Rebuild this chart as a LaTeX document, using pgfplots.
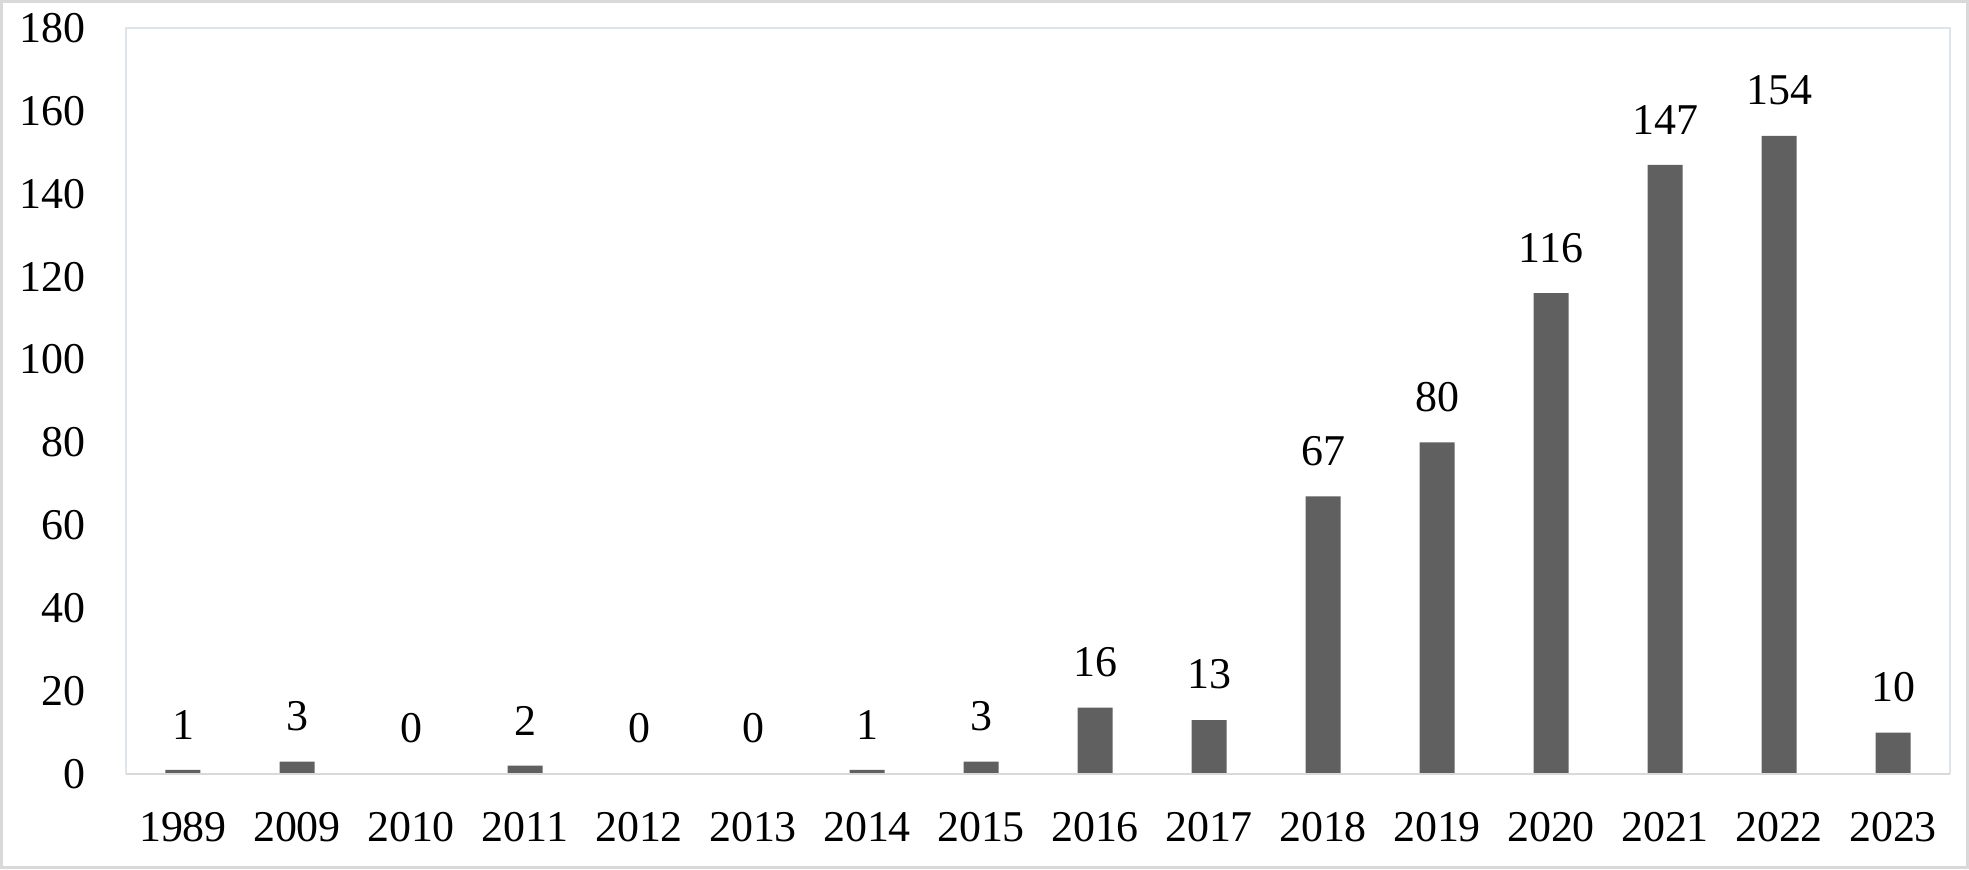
\documentclass[border=0pt]{standalone}
\usepackage{pgfplots}
\pgfplotsset{compat=1.18}
\usepackage{fontspec}
\setmainfont{Liberation Serif}
\definecolor{barc}{HTML}{606060}
\definecolor{frameg}{HTML}{D9D9D9}
\definecolor{plotb}{HTML}{DCE4F0}
\begin{document}
\begin{tikzpicture}[font=\fontsize{12.5}{15}\selectfont]
\useasboundingbox (-12.6mm,-9.5mm) rectangle (184.3mm,77.4mm);
\draw[frameg, line width=0.3mm] (-12.45mm,-9.35mm) rectangle (184.15mm,77.25mm);
\begin{axis}[
  at={(0,0)}, anchor=south west,
  scale only axis,
  width=182.4mm, height=74.6mm,
  xmin=-0.5, xmax=15.5,
  ymin=0, ymax=180,
  ytick={0,20,...,180},
  xtick=data,
  xticklabels={1989,2009,2010,2011,2012,2013,2014,2015,2016,2017,2018,2019,2020,2021,2022,2023},
  major tick length=0pt,
  axis line style={draw=none},
  /pgf/number format/assume math mode=true,
  yticklabel style={anchor=east, inner sep=0pt, xshift=-4mm, font=\fontsize{12.5}{15}\selectfont},
  xticklabel style={anchor=north, inner sep=0pt, yshift=-3.8mm, font=\fontsize{12.5}{15}\selectfont},
  ybar, bar width=3.5mm,
  nodes near coords,
  nodes near coords style={anchor=south, inner sep=0pt, yshift=3mm, font=\fontsize{12.5}{15}\selectfont, /pgf/number format/assume math mode=true},
  clip=false,
]
\draw[plotb, line width=0.15mm] (rel axis cs:0,0) -- (rel axis cs:0,1) -- (rel axis cs:1,1) -- (rel axis cs:1,0);
\addplot[fill=barc, draw=none] coordinates {
(0,1) (1,3) (2,0) (3,2) (4,0) (5,0) (6,1) (7,3) (8,16) (9,13) (10,67) (11,80) (12,116) (13,147) (14,154) (15,10)
};
\draw[frameg, line width=0.2mm] (rel axis cs:0,0) -- (rel axis cs:1,0);
\end{axis}
\end{tikzpicture}
\end{document}
